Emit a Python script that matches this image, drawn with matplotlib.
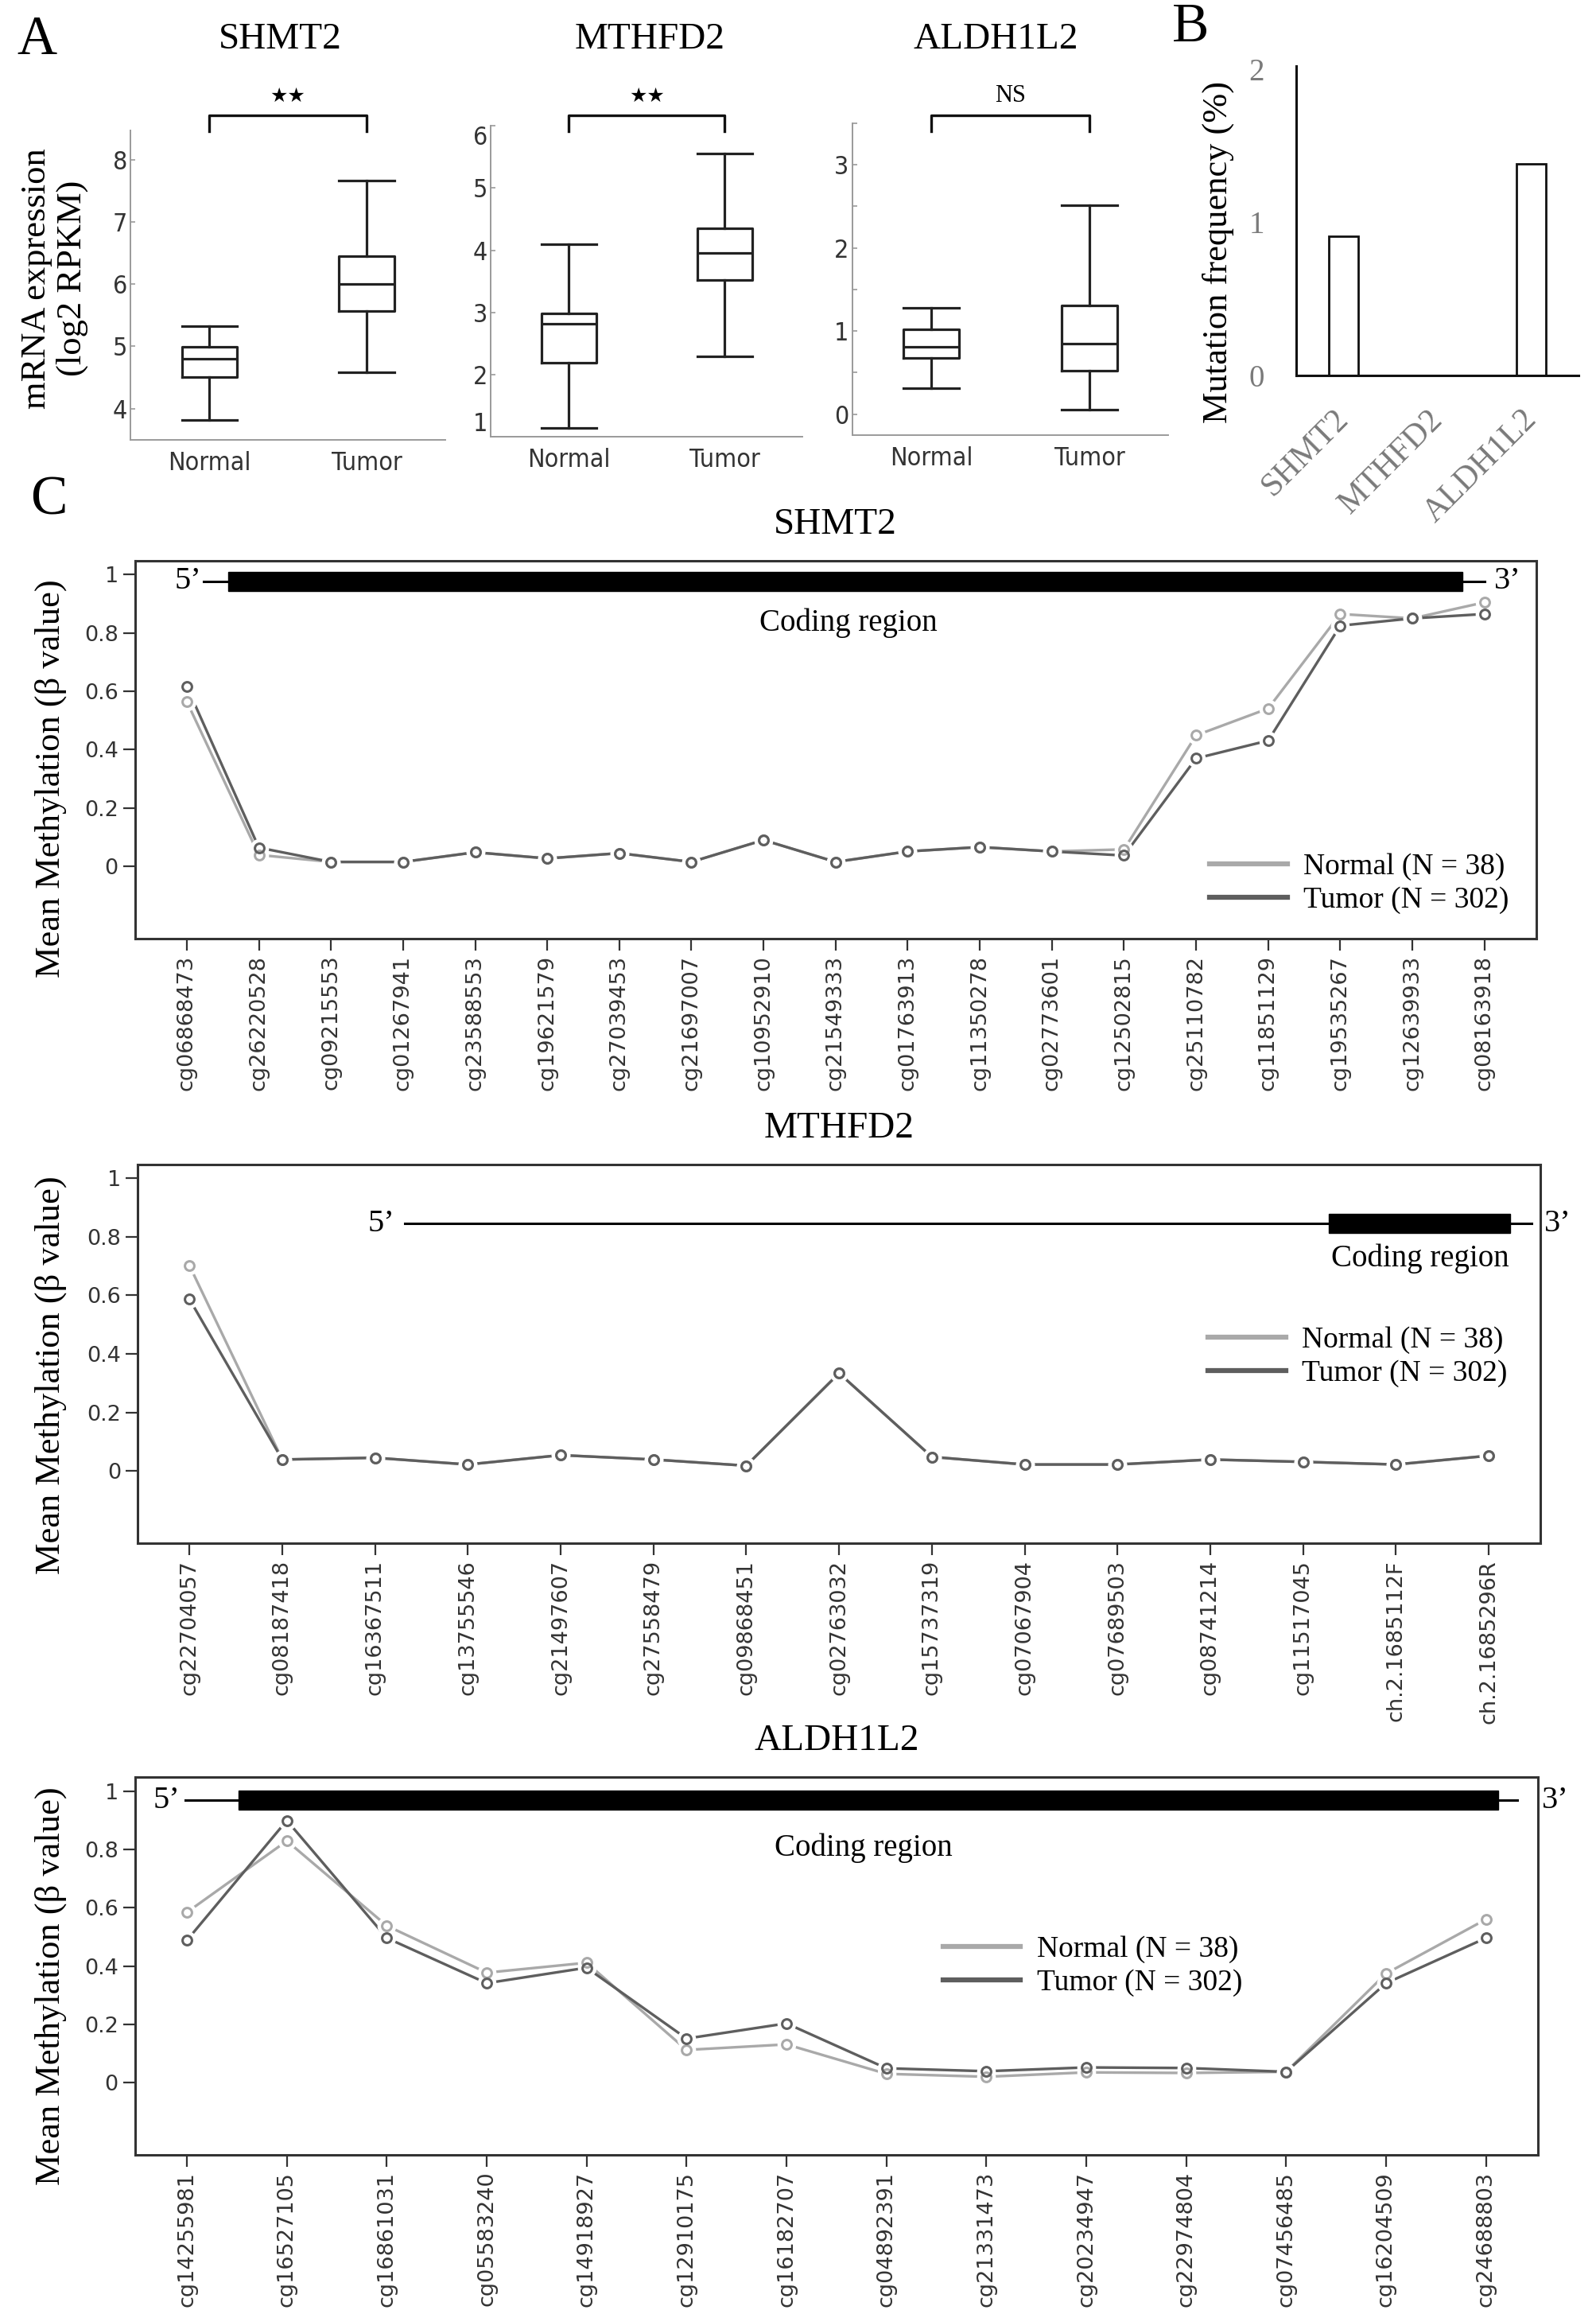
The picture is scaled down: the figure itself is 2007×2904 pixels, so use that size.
import numpy as np
import matplotlib
matplotlib.use("Agg")
import matplotlib.pyplot as plt
import matplotlib.transforms as mtransforms
from matplotlib.lines import Line2D
from matplotlib.patches import Rectangle

W, H = 2008, 2904
SERIF = "Liberation Serif"
SANS = "DejaVu Sans"

# ---------------- data ----------------
genes = ["SHMT2", "MTHFD2", "ALDH1L2"]
groups = ["Normal", "Tumor"]

# box stats: whisker low, Q1, median, Q3, whisker high
shmt2_normal_box = [3.82, 4.51, 4.80, 4.99, 5.32]
shmt2_tumor_box = [4.58, 5.57, 6.00, 6.45, 7.66]
mthfd2_normal_box = [1.15, 2.19, 2.82, 2.98, 4.10]
mthfd2_tumor_box = [2.29, 3.52, 3.96, 4.35, 5.56]
aldh1l2_normal_box = [0.31, 0.68, 0.81, 1.02, 1.28]
aldh1l2_tumor_box = [0.05, 0.52, 0.85, 1.31, 2.51]
significance = ["★★", "★★", "NS"]

mutation_freq = [0.91, 0.0, 1.38]

shmt2_probes = ["cg06868473", "cg26220528", "cg09215553", "cg01267941", "cg23588553",
                "cg19621579", "cg27039453", "cg21697007", "cg10952910", "cg21549333",
                "cg01763913", "cg11350278", "cg02773601", "cg12502815", "cg25110782",
                "cg11851129", "cg19535267", "cg12639933", "cg08163918"]
shmt2_normal = [0.565, 0.039, 0.015, 0.015, 0.048, 0.027, 0.045, 0.015, 0.090, 0.015,
                0.051, 0.066, 0.051, 0.058, 0.449, 0.541, 0.865, 0.850, 0.905]
shmt2_tumor = [0.617, 0.064, 0.015, 0.015, 0.048, 0.027, 0.045, 0.015, 0.090, 0.015,
               0.051, 0.066, 0.051, 0.037, 0.370, 0.431, 0.825, 0.850, 0.865]

mthfd2_probes = ["cg22704057", "cg08187418", "cg16367511", "cg13755546", "cg21497607",
                 "cg27558479", "cg09868451", "cg02763032", "cg15737319", "cg07067904",
                 "cg07689503", "cg08741214", "cg11517045", "ch.2.1685112F", "ch.2.1685296R"]
mthfd2_normal = [0.702, 0.039, 0.045, 0.022, 0.054, 0.039, 0.018, 0.334, 0.048, 0.022,
                 0.022, 0.039, 0.031, 0.022, 0.052]
mthfd2_tumor = [0.587, 0.039, 0.045, 0.022, 0.054, 0.039, 0.018, 0.334, 0.048, 0.022,
                0.022, 0.039, 0.031, 0.022, 0.052]

aldh1l2_probes = ["cg14255981", "cg16527105", "cg16861031", "cg05583240", "cg14918927",
                  "cg12910175", "cg16182707", "cg04892391", "cg21331473", "cg20234947",
                  "cg22974804", "cg07456485", "cg16204509", "cg24688803"]
aldh1l2_normal = [0.584, 0.829, 0.538, 0.377, 0.411, 0.112, 0.131, 0.030, 0.020, 0.035,
                  0.033, 0.037, 0.374, 0.560]
aldh1l2_tumor = [0.488, 0.899, 0.496, 0.341, 0.394, 0.151, 0.203, 0.049, 0.039, 0.052,
                 0.050, 0.037, 0.341, 0.496]

legend_labels = ["Normal (N = 38)", "Tumor (N = 302)"]

NORMAL_C = "#a9a9a9"
TUMOR_C = "#5e5e5e"
BOX_C = "#222222"


def px_axes(l, t, r, b):
    return fig.add_axes([l / W, 1 - b / H, (r - l) / W, (b - t) / H])


fig = plt.figure(figsize=(W / 100, H / 100), dpi=100)

# ---------------- panel A: boxplots ----------------
box_data = [(shmt2_normal_box, shmt2_tumor_box),
            (mthfd2_normal_box, mthfd2_tumor_box),
            (aldh1l2_normal_box, aldh1l2_tumor_box)]
box_rects = [(164.3, 164, 560, 552.7), (617.3, 158.3, 1009.3, 549.3), (1071.7, 155, 1469.3, 546.7)]
box_ylims = [(3.5, 8.47), (1, 6), (-0.25, 3.5)]
title_x = [352, 817, 1252]

for i, (gene, (nb, tb)) in enumerate(zip(genes, box_data)):
    ax = px_axes(*box_rects[i])
    stats = []
    for lab, s in zip(groups, (nb, tb)):
        stats.append(dict(label=lab, whislo=s[0], q1=s[1], med=s[2], q3=s[3], whishi=s[4], fliers=[]))
    lp = dict(color=BOX_C, lw=2.3)
    ax.bxp(stats, positions=[1, 2], widths=0.35, showfliers=False,
           boxprops=lp, whiskerprops=lp, capprops=lp, medianprops=lp, capwidths=0.35)
    ax.set_xlim(0.5, 2.5)
    ax.set_ylim(*box_ylims[i])
    for sp in ["top", "right"]:
        ax.spines[sp].set_visible(False)
    for sp in ["left", "bottom"]:
        ax.spines[sp].set_color("#9a9a9a")
        ax.spines[sp].set_linewidth(1.4)
    ax.tick_params(axis="x", length=0, pad=10)
    ax.tick_params(axis="y", direction="in", length=4, width=1.2, color="#9a9a9a", pad=3)
    lo, hi = box_ylims[i]
    yt = np.arange(np.ceil(lo), np.floor(hi) + 1)
    ax.set_yticks(yt)
    ax.set_yticklabels([str(int(v)) for v in yt])
    if i == 2:
        ax.set_yticks(np.arange(0, 3.51, 0.5), minor=True)
        ax.tick_params(axis="y", which="minor", direction="in", length=4, width=1.2, color="#9a9a9a")
    for t in ax.get_xticklabels() + ax.get_yticklabels():
        t.set_family(SANS)
        t.set_fontstretch("condensed")
        t.set_fontsize(23)
        t.set_color("#333333")
    if i == 1:
        yl = ax.get_yticklabels()
        yl[0].set_va("bottom")
        yl[-1].set_va("top")
    # significance bracket
    tr = mtransforms.blended_transform_factory(ax.transData, fig.transFigure)
    yb, yl0 = 1 - 144.7 / H, 1 - 165 / H
    ax.plot([1, 1, 2, 2], [yl0, yb, yb, yl0], color="#111111", lw=2.4, transform=tr, clip_on=False)
    if significance[i] == "NS":
        ax.text(1.5, 1 - 120.5 / H, "NS", transform=tr, ha="center", va="center",
                family=SERIF, fontsize=22)
    else:
        ax.text(1.5, 1 - 120.5 / H, significance[i], transform=tr, ha="center", va="center",
                family=SANS, fontsize=18)
    fig.text(title_x[i] / W, 1 - 49.4 / H, gene, ha="center", va="center", family=SERIF, fontsize=34)

fig.text(68.5 / W, 1 - 350 / H, "mRNA expression\n(log2 RPKM)", rotation=90, ha="center",
         va="center", family=SERIF, fontsize=32, linespacing=1.15)

# ---------------- panel B: mutation frequency ----------------
axb = px_axes(1630, 83, 1985, 472)
axb.bar(range(len(genes)), mutation_freq, width=0.31, color="white", edgecolor="#111111", lw=2)
axb.set_xlim(-0.5, 2.5)
axb.set_ylim(0, 2.02)
for sp in ["top", "right"]:
    axb.spines[sp].set_visible(False)
for sp in ["left", "bottom"]:
    axb.spines[sp].set_color("#111111")
    axb.spines[sp].set_linewidth(2.2)
axb.set_yticks([0, 1, 2])
axb.set_yticklabels(["0", "1", "2"])
axb.set_xticks(range(len(genes)))
axb.set_xticklabels(genes, rotation=45, ha="right", rotation_mode="anchor")
axb.tick_params(axis="y", length=0, pad=29)
axb.tick_params(axis="x", length=0, pad=26)
shift = mtransforms.ScaledTranslation(-13 / 100, 0, fig.dpi_scale_trans)
for t in axb.get_yticklabels():
    t.set_family(SERIF)
    t.set_fontsize(28)
    t.set_color("#7a7a7a")
for t in axb.get_xticklabels():
    t.set_family(SERIF)
    t.set_fontsize(30)
    t.set_color("#7a7a7a")
    t.set_transform(t.get_transform() + shift)
fig.text(1532 / W, 1 - 317 / H, "Mutation frequency (%)", rotation=90, ha="center", va="center",
         family=SERIF, fontsize=32)

# ---------------- panel C: methylation ----------------
meth_sets = [(shmt2_probes, shmt2_normal, shmt2_tumor),
             (mthfd2_probes, mthfd2_normal, mthfd2_tumor),
             (aldh1l2_probes, aldh1l2_normal, aldh1l2_tumor)]
meth_rects = [(169.6, 704.8, 1932, 1180), (172.9, 1463.7, 1937.4, 1940.4), (169.7, 2234, 1934, 2709)]
ylabel_y = [979, 1729, 2497]
# gene structure: 5' x, line start, bar start, bar end, line end, 3' x, y, coding label x, y
structures = [(1.02, 1.23, 1.58, 18.69, 19.0, 19.32, 0.977, 10.18, 0.835),
              (3.07, 3.32, 13.28, 15.23, 15.46, 15.74, 0.846, 14.26, 0.725),
              (0.80, 0.985, 1.52, 14.12, 14.31, 14.69, 0.968, 7.77, 0.805)]
legend_pos = [(0.767, 0.146), (0.763, 0.492), (0.576, 0.50)]

for i, (gene, (probes, normal, tumor)) in enumerate(zip(genes, meth_sets)):
    ax = px_axes(*meth_rects[i])
    n = len(probes)
    x = np.arange(1, n + 1)
    for vals, col in ((normal, NORMAL_C), (tumor, TUMOR_C)):
        ax.plot(x, vals, color=col, lw=2.4, zorder=2)
    for vals in (normal, tumor):
        ax.plot(x, vals, ls="none", marker="o", ms=17, mfc="white", mec="none", zorder=3)
    for vals, col in ((normal, NORMAL_C), (tumor, TUMOR_C)):
        ax.plot(x, vals, ls="none", marker="o", ms=8.5, mfc="none", mec=col, mew=2.2, zorder=4)

    ax.set_xlim(1 - 0.04 * (n - 1), n + 0.04 * (n - 1))
    ax.set_ylim(-0.248, 1.048)
    ax.set_xticks(x)
    ax.set_xticklabels(probes, rotation=90, family=SANS, fontsize=19.5, color="#333333")
    ax.set_yticks([0, 0.2, 0.4, 0.6, 0.8, 1.0])
    ax.set_yticklabels(["0", "0.2", "0.4", "0.6", "0.8", "1"], family=SANS, fontsize=19.5,
                       color="#333333")
    ax.tick_params(axis="both", direction="out", length=11, width=1.6, color="#333333", pad=4)
    ax.tick_params(axis="x", pad=4)
    for sp in ax.spines.values():
        sp.set_color("#333333")
        sp.set_linewidth(2.2)

    s5, l0, b0, b1, l1, s3, yg, cx, cy = structures[i]
    ax.plot([l0, l1], [yg, yg], color="black", lw=2.2, zorder=5, clip_on=False)
    ax.add_patch(Rectangle((b0, yg - 0.033), b1 - b0, 0.066, color="black", zorder=5, clip_on=False))
    ax.text(s5, yg, "5’", ha="center", va="center", family=SERIF, fontsize=29, clip_on=False)
    ax.text(s3, yg, "3’", ha="center", va="center", family=SERIF, fontsize=29, clip_on=False)
    ax.text(cx, cy, "Coding region", ha="center", va="center", family=SERIF, fontsize=28)

    handles = [Line2D([], [], color=NORMAL_C, lw=4.5), Line2D([], [], color=TUMOR_C, lw=4.5)]
    ax.legend(handles, legend_labels, loc="center left", bbox_to_anchor=legend_pos[i],
              frameon=False, borderpad=0, borderaxespad=0, handlelength=2.6, handletextpad=0.55,
              labelspacing=0.2, prop=dict(family=SERIF, size=27))

    ax.text(0.5, 1 + 45 / (meth_rects[i][3] - meth_rects[i][1]), gene, transform=ax.transAxes,
            ha="center", va="center", family=SERIF, fontsize=34)
    fig.text(64 / W, 1 - ylabel_y[i] / H, "Mean Methylation (β value)", rotation=90, ha="center",
             va="center", family=SERIF, fontsize=32)

# panel letters
fig.text(46 / W, 1 - 51 / H, "A", ha="center", va="center", family=SERIF, fontsize=50)
fig.text(1497 / W, 1 - 35 / H, "B", ha="center", va="center", family=SERIF, fontsize=50)
fig.text(61 / W, 1 - 630 / H, "C", ha="center", va="center", family=SERIF, fontsize=50)

fig.savefig("out.png", dpi=100, facecolor="white")
